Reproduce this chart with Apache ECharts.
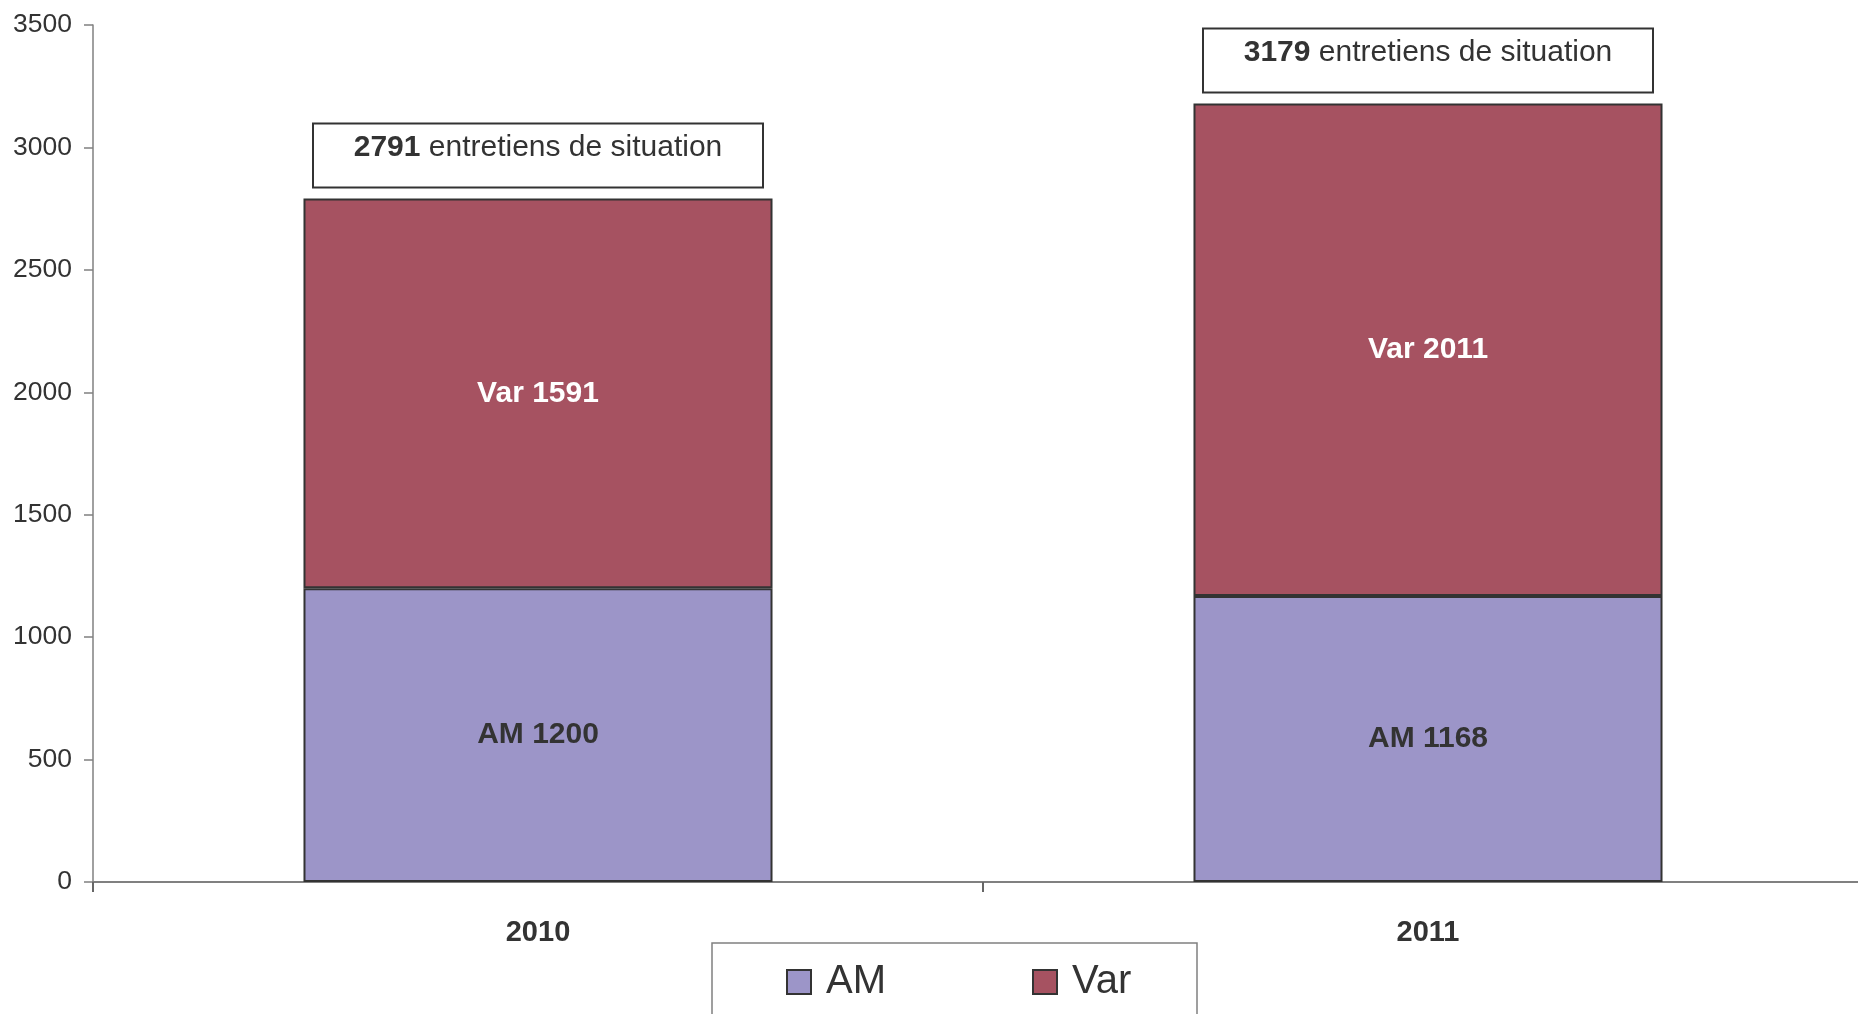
<!DOCTYPE html>
<html>
<head>
<meta charset="utf-8">
<script src="https://cdn.jsdelivr.net/npm/echarts@6/dist/echarts.min.js"></script>
<style>
html,body{margin:0;padding:0;background:#fff;}
#chart{width:1858px;height:1014px;}
</style>
</head>
<body>
<div id="chart"></div>
<script>
// donnees
var years = ['2010', '2011'];
var amData = [1200, 1168];
var varData = [1591, 2011];
var totals = [2791, 3179];
var yTicks = [0, 500, 1000, 1500, 2000, 2500, 3000, 3500];

var font = "'Liberation Sans', Arial, sans-serif";
var dark = '#333333';

var chart = echarts.init(document.getElementById('chart'));
var option = {
    animation: false,
    backgroundColor: '#ffffff',
    textStyle: {fontFamily: font},
    grid: {left: 93, top: 25, bottom: 132, width: 1780, containLabel: false, outerBoundsMode: 'none'},
    legend: {
        data: ['AM', 'Var'],
        left: 786,
        top: 962,
        padding: 0,
        itemWidth: 24,
        itemHeight: 24,
        itemGap: 146,
        icon: 'rect',
        textStyle: {fontFamily: font, fontSize: 40, color: dark, padding: [0, 0, 0, 10]}
    },
    graphic: [{
        type: 'rect',
        shape: {x: 712, y: 943, width: 485, height: 90},
        style: {fill: 'none', stroke: '#808080', lineWidth: 1.5},
        silent: true
    }],
    xAxis: {
        type: 'category',
        data: years,
        axisLine: {lineStyle: {color: '#808080', width: 2}},
        axisTick: {show: true, length: 10, alignWithLabel: false, lineStyle: {color: '#666', width: 2}},
        axisLabel: {margin: 36, fontSize: 29, fontWeight: 'bold', color: dark, fontFamily: font}
    },
    yAxis: {
        type: 'value',
        min: yTicks[0],
        max: yTicks[yTicks.length - 1],
        interval: 500,
        splitLine: {show: false},
        axisLine: {show: true, lineStyle: {color: '#808080', width: 1.5}},
        axisTick: {show: true, length: 9, lineStyle: {color: '#808080', width: 1.5}},
        axisLabel: {
            margin: 21, fontSize: 26.5, color: dark, fontFamily: font,
            formatter: function (v) { return String(v); }
        }
    },
    series: [
        {
            name: 'AM',
            type: 'bar',
            stack: 'total',
            barWidth: '52.7%',
            data: amData,
            itemStyle: {color: '#9c95c8', borderColor: '#333', borderWidth: 2},
            label: {
                show: true, position: 'inside',
                formatter: function (p) { return 'AM ' + p.value; },
                fontSize: 30, fontWeight: 'bold', color: dark, fontFamily: font
            }
        },
        {
            name: 'Var',
            type: 'bar',
            stack: 'total',
            barWidth: '52.7%',
            data: varData,
            itemStyle: {color: '#a65261', borderColor: '#333', borderWidth: 2},
            label: {
                show: true, position: 'inside',
                formatter: function (p) { return 'Var ' + p.value; },
                fontSize: 30, fontWeight: 'bold', color: '#ffffff', fontFamily: font
            }
        },
        {
            name: 'total',
            type: 'scatter',
            symbolSize: 0,
            silent: true,
            itemStyle: {opacity: 1},
            data: totals.map(function (t, i) { return [years[i], t]; }),
            label: {
                show: true,
                position: 'top',
                distance: 12,
                formatter: function (p) { return '{b|' + p.value[1] + '} entretiens de situation'; },
                backgroundColor: '#ffffff',
                borderColor: '#333',
                borderWidth: 2,
                width: 448,
                height: 62,
                lineHeight: 46,
                align: 'center',
                fontSize: 30,
                color: dark,
                fontFamily: font,
                rich: {
                    b: {fontSize: 30, fontWeight: 'bold', color: dark, fontFamily: font, lineHeight: 46}
                }
            }
        }
    ]
};
chart.setOption(option);
</script>
</body>
</html>
